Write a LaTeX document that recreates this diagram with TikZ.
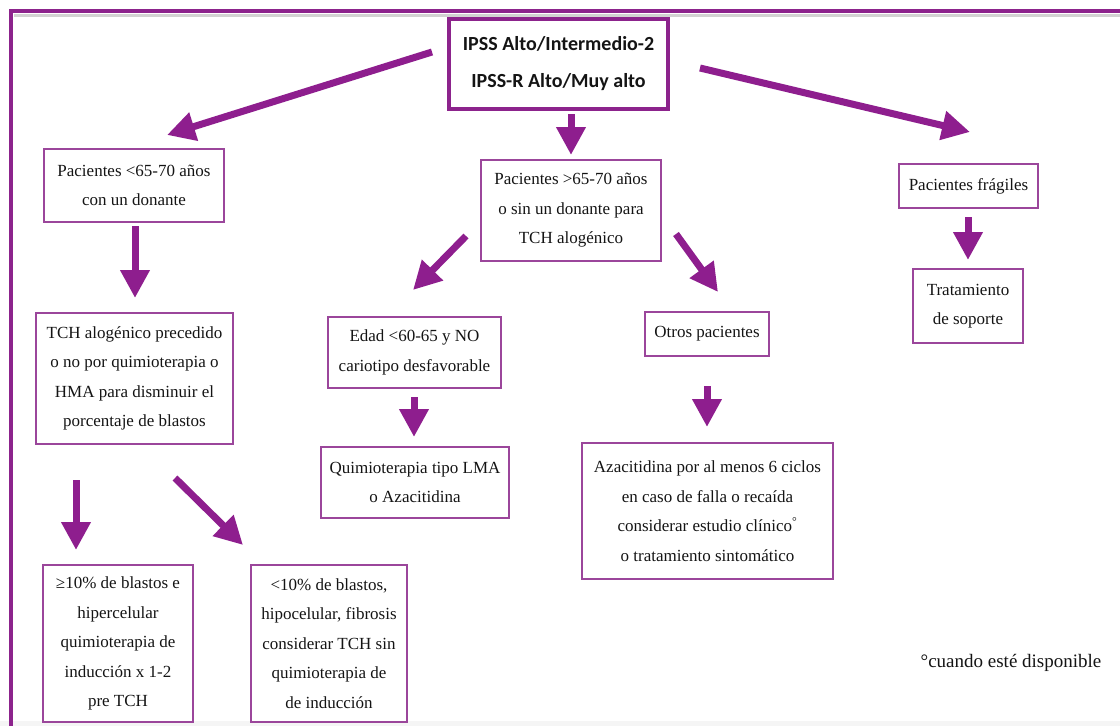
\documentclass[tikz,border=0pt]{standalone}
\usepackage{fontspec}
\setmainfont{Liberation Serif}
\newfontfamily\titlefont{Carlito}
\usetikzlibrary{arrows.meta}
\definecolor{arrowc}{RGB}{142,30,142}
\definecolor{boxc}{RGB}{155,70,155}
\definecolor{framec}{RGB}{140,35,140}
\definecolor{txtc}{RGB}{20,20,20}
\tikzset{
  box/.style={draw=boxc, line width=1.3pt, align=center, inner sep=0pt,
    text=txtc, font=\fontsize{17}{29.5}\selectfont},
  titlebox/.style={draw=framec, line width=3.2pt, align=center, inner sep=0pt,
    text=txtc, font=\titlefont\bfseries\fontsize{20}{37}\selectfont},
  bigarrow/.style={draw=arrowc, line width=7pt,
    -{Triangle[length=28pt,width=28pt]}, arrowc},
}
\begin{document}
\begin{tikzpicture}[x=1pt,y=-1pt]
\useasboundingbox (0,0) rectangle (1120,726);
\fill[gray!8] (0,721) rectangle (1120,726);
% frame
\draw[gray!35, line width=3pt] (14,15.5) -- (1120,15.5);
\draw[framec, line width=4pt] (11,726) -- (11,11) -- (1120,11);

% nodes
\node[titlebox, minimum width=219pt, minimum height=90pt] (title) at (558.5,64)
  {IPSS Alto/Intermedio-2\\IPSS-R Alto/Muy alto};
\node[box, minimum width=180pt, minimum height=73pt] (b1) at (134,185.5)
  {Pacientes <65-70 años\\con un donante};
\node[box, minimum width=180pt, minimum height=101pt] (b2) at (571,210.5)
  {Pacientes >65-70 años\\o sin un donante para\\TCH alogénico};
\node[box, minimum width=139pt, minimum height=44pt] (b3) at (968.5,186)
  {Pacientes frágiles};
\node[box, minimum width=110pt, minimum height=74pt] (b4) at (968,306)
  {Tratamiento\\de soporte};
\node[box, minimum width=197pt, minimum height=131pt] (b5) at (134.5,378.5)
  {TCH alogénico precedido\\o no por quimioterapia o\\HMA para disminuir el\\porcentaje de blastos};
\node[box, minimum width=173pt, minimum height=71pt] (b6) at (414.5,352.5)
  {Edad <60-65 y NO\\cariotipo desfavorable};
\node[box, minimum width=124pt, minimum height=44pt] (b7) at (707,334)
  {Otros pacientes};
\node[box, minimum width=188pt, minimum height=71pt] (b8) at (415,482.5)
  {Quimioterapia tipo LMA\\o Azacitidina};
\node[box, minimum width=251pt, minimum height=136pt] (b9) at (707.5,511)
  {Azacitidina por al menos 6 ciclos\\en caso de falla o recaída\\considerar estudio clínico\textsuperscript{°}\\o tratamiento sintomático};
\node[box, minimum width=150pt, minimum height=157pt] (b10) at (118,643.5)
  {≥10\% de blastos e\\hipercelular\\quimioterapia de\\inducción x 1-2\\pre TCH};
\node[box, minimum width=156pt, minimum height=157pt] (b11) at (329,643.5)
  {<10\% de blastos,\\hipocelular, fibrosis\\considerar TCH sin\\quimioterapia de\\de inducción};
\node[text=txtc, font=\fontsize{19}{22}\selectfont, inner sep=0pt] (foot) at (1011,663)
  {°cuando esté disponible};

% arrow end points
\coordinate (a1s) at (432,52);  \coordinate (a1e) at (167,135);
\coordinate (a2s) at (571,114); \coordinate (a2e) at (571,155);
\coordinate (a3s) at (700,68);  \coordinate (a3e) at (970,132);
\coordinate (a4s) at (135,226); \coordinate (a4e) at (135,298);
\coordinate (a5s) at (466,236); \coordinate (a5e) at (413,290);
\coordinate (a6s) at (676,234); \coordinate (a6e) at (718,292);
\coordinate (a7s) at (968,217); \coordinate (a7e) at (968,260);
\coordinate (a8s) at (414,397); \coordinate (a8e) at (414,437);
\coordinate (a9s) at (707,386); \coordinate (a9e) at (707,427);
\coordinate (a10s) at (76,480); \coordinate (a10e) at (76,550);
\coordinate (a11s) at (175,478); \coordinate (a11e) at (243,545);

\foreach \i in {1,...,11} {
  \draw[bigarrow] (a\i s) -- (a\i e);
}
\end{tikzpicture}
\end{document}
